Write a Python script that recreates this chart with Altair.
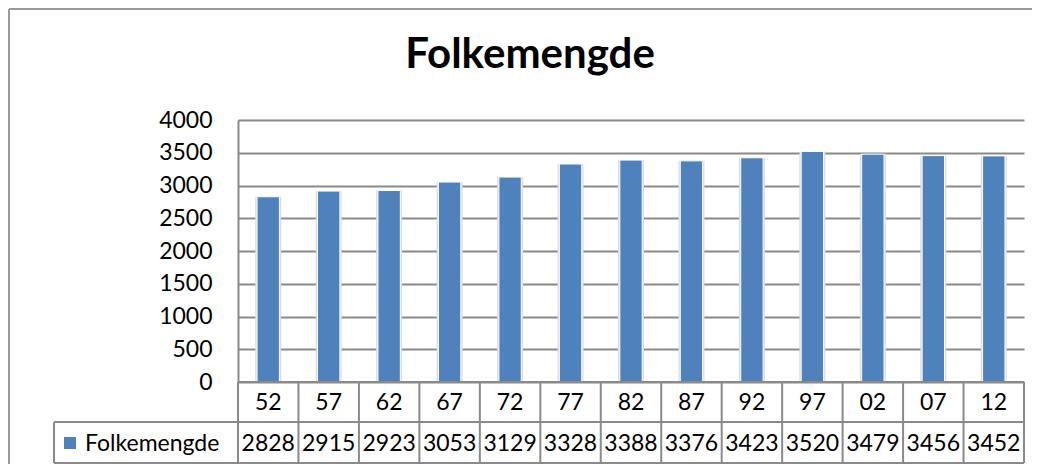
import altair as alt
import pandas as pd

title_text = "Folkemengde"
series_name = "Folkemengde"
years = ["52", "57", "62", "67", "72", "77", "82", "87", "92", "97", "02", "07", "12"]
values = [2828, 2915, 2923, 3053, 3129, 3328, 3388, 3376, 3423, 3520, 3479, 3456, 3452]
y_ticks = [0, 500, 1000, 1500, 2000, 2500, 3000, 3500, 4000]

FONT = "Lato"
GRID = "#8a8a8a"
BLUE = "#4F81BD"
W, H = 786, 262
ROW1_TOP, ROW1_BOT, ROW2_BOT = 262, 302, 343
LEG_LEFT = -184
FS = 23

df = pd.DataFrame({"year": years, "value": values})
one = pd.DataFrame({"name": [series_name]})

xscale = alt.Scale(domain=years, paddingInner=0, paddingOuter=0)
xenc = alt.X("year:N", scale=xscale, axis=None)
yenc = alt.Y(
    "value:Q",
    scale=alt.Scale(domain=[0, 4000], nice=False),
    axis=alt.Axis(
        values=y_ticks, format="d", labelOverlap=False, title=None,
        grid=True, gridColor=GRID, gridWidth=2,
        domain=True, domainColor=GRID, domainWidth=2, ticks=False,
        labelFont=FONT, labelFontSize=FS, labelColor="black", labelPadding=26,
    ),
)

base = alt.Chart(df)

shadow = base.mark_bar(color="#dcdcdc", width=alt.RelativeBandSize(0.43)).encode(
    x=xenc, y=yenc)

bars = base.mark_bar(color=BLUE, stroke="white", strokeWidth=1,
                     width=alt.RelativeBandSize(0.37)).encode(x=xenc, y=yenc)

# table: vertical cell borders at band starts
vlines = base.mark_rule(color=GRID, strokeWidth=2).encode(
    x=alt.X("year:N", scale=xscale, axis=None, bandPosition=0),
    y=alt.value(ROW1_TOP), y2=alt.value(ROW2_BOT),
)
right_line = alt.Chart(one).mark_rule(color=GRID, strokeWidth=2).encode(
    x=alt.value(W), y=alt.value(ROW1_TOP), y2=alt.value(ROW2_BOT))
leg_left = alt.Chart(one).mark_rule(color=GRID, strokeWidth=2).encode(
    x=alt.value(LEG_LEFT), y=alt.value(ROW1_BOT), y2=alt.value(ROW2_BOT))
h1 = alt.Chart(one).mark_rule(color=GRID, strokeWidth=2).encode(
    x=alt.value(0), x2=alt.value(W), y=alt.value(ROW1_TOP))
h2 = alt.Chart(one).mark_rule(color=GRID, strokeWidth=2).encode(
    x=alt.value(LEG_LEFT), x2=alt.value(W), y=alt.value(ROW1_BOT))
h3 = alt.Chart(one).mark_rule(color=GRID, strokeWidth=2).encode(
    x=alt.value(LEG_LEFT), x2=alt.value(W), y=alt.value(ROW2_BOT))

cat_text = base.mark_text(font=FONT, fontSize=FS, color="black", baseline="middle").encode(
    x=alt.X("year:N", scale=xscale, axis=None),
    y=alt.value((ROW1_TOP + ROW1_BOT) / 2 + 1),
    text="year:N",
)
val_text = base.mark_text(font=FONT, fontSize=FS, color="black", baseline="middle").encode(
    x=alt.X("year:N", scale=xscale, axis=None),
    y=alt.value((ROW1_BOT + ROW2_BOT) / 2 + 1),
    text="value:Q",
)

leg_sq = alt.Chart(one).mark_rect(color=BLUE).encode(
    x=alt.value(-174), x2=alt.value(-162), y=alt.value(317), y2=alt.value(329))
leg_txt = alt.Chart(one).mark_text(font=FONT, fontSize=FS, color="black",
                                   align="left", baseline="middle").encode(
    x=alt.value(-153), y=alt.value(324), text="name:N")

title = alt.Chart(pd.DataFrame({"t": [title_text]})).mark_text(
    font=FONT, fontSize=42, fontWeight="bold", color="black",
    align="center", baseline="alphabetic").encode(
    x=alt.value(292), y=alt.value(-52), text="t:N")

frame_left = alt.Chart(one).mark_rule(color="#9a9a9a", strokeWidth=2).encode(
    x=alt.value(-229), y=alt.value(-111), y2=alt.value(360))
frame_top = alt.Chart(one).mark_rule(color="#9a9a9a", strokeWidth=2).encode(
    x=alt.value(-229), x2=alt.value(820), y=alt.value(-111))

chart = alt.layer(
    shadow, bars, vlines, right_line, leg_left, h1, h2, h3,
    cat_text, val_text, leg_sq, leg_txt, title, frame_left, frame_top,
).properties(
    width=W, height=H,
    autosize=alt.AutoSizeParams(type="none"),
    padding={"left": 230, "top": 112, "right": 8, "bottom": 82},
).configure_view(stroke=None)

chart.save("out.html", embed_options={"renderer": "svg", "actions": False})
